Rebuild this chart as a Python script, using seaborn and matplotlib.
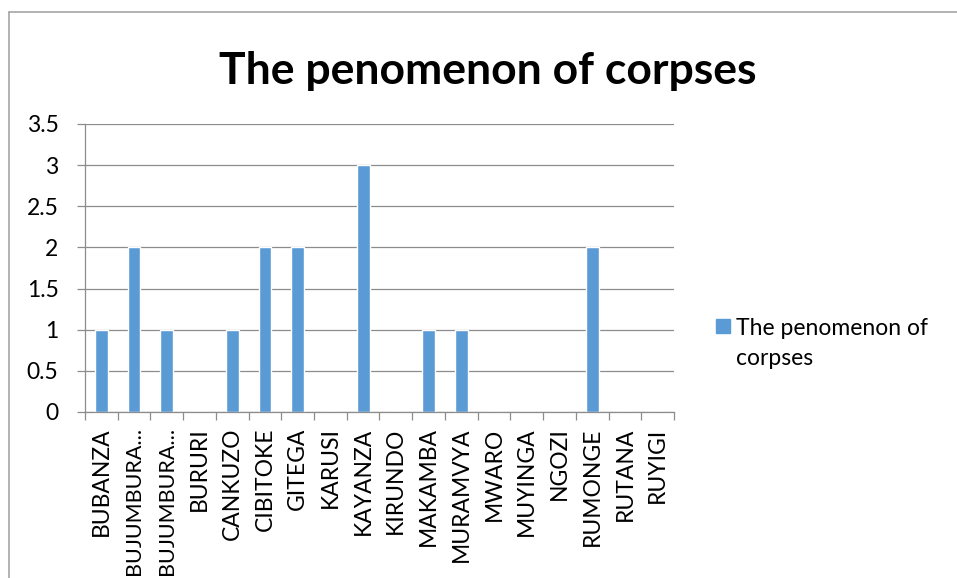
import numpy as np
import pandas as pd
import matplotlib.pyplot as plt
import seaborn as sns
from matplotlib.lines import Line2D
from matplotlib.patches import Rectangle
from matplotlib.ticker import FixedLocator


provinces = ['BUBANZA', 'BUJUMBURA...', 'BUJUMBURA...', 'BURURI', 'CANKUZO',
             'CIBITOKE', 'GITEGA', 'KARUSI', 'KAYANZA', 'KIRUNDO',
             'MAKAMBA', 'MURAMVYA', 'MWARO', 'MUYINGA', 'NGOZI',
             'RUMONGE', 'RUTANA', 'RUYIGI']
corpses = [1, 2, 1, 0, 1, 2, 2, 0, 3, 0, 1, 1, 0, 0, 0, 2, 0, 0]
y_ticks = [0, 0.5, 1, 1.5, 2, 2.5, 3, 3.5]
y_tick_labels = ['0', '0.5', '1', '1.5', '2', '2.5', '3', '3.5']

TITLE = 'The penomenon of corpses'
SERIES_LINES = ['The penomenon of', 'corpses']

BAR_COLOR = '#5B9BD5'
GRID_COLOR = '#8C8C8C'
LABEL_SIZE = 16.5

sns.set_theme(style='white')
plt.rcParams['font.family'] = ['Lato', 'DejaVu Sans']

df = pd.DataFrame({'pos': np.arange(len(provinces)), 'value': corpses})

fig = plt.figure(figsize=(9.57, 5.78), dpi=100)
ax = fig.add_axes([0.0888, 0.2872, 0.6155, 0.4983])

sns.barplot(data=df, x='pos', y='value', color=BAR_COLOR, width=0.39,
            saturation=1, ax=ax)

ax.set_xlim(-0.5, len(provinces) - 0.5)
ax.set_ylim(0, 3.5)
ax.set_yticks(y_ticks)
ax.set_yticklabels(y_tick_labels)
ax.set_xticks(df['pos'])
ax.set_xticklabels(provinces, rotation=90, ha='center', va='top')
# Excel puts the category ticks on the boundaries
ax.xaxis.set_minor_locator(FixedLocator(np.arange(len(provinces) + 1) - 0.5))
ax.set_xlabel('')
ax.set_ylabel('')

ax.yaxis.grid(True, color=GRID_COLOR, linewidth=0.9)
ax.set_axisbelow(True)
for side in ['top', 'right']:
    ax.spines[side].set_visible(False)
for side in ['left', 'bottom']:
    ax.spines[side].set_color(GRID_COLOR)
    ax.spines[side].set_linewidth(0.9)

ax.tick_params(axis='y', which='major', left=True, length=6, width=0.9,
               color=GRID_COLOR, pad=13, labelsize=LABEL_SIZE,
               labelcolor='black')
ax.tick_params(axis='x', which='major', bottom=False, length=0, pad=11,
               labelsize=LABEL_SIZE, labelcolor='black')
ax.tick_params(axis='x', which='minor', bottom=True, length=6, width=0.9,
               color=GRID_COLOR)

fig.text(488 / 957, 1 - 84 / 578, TITLE, ha='center', va='baseline',
         fontsize=32, fontweight='bold', color='black')

# legend drawn by hand so the key sits on the first text line
fig.add_artist(Rectangle((716 / 957, 1 - 333 / 578), 14 / 957, 14 / 578,
                         transform=fig.transFigure, color=BAR_COLOR))
for i, line in enumerate(SERIES_LINES):
    fig.text(736 / 957, 1 - (335 + 30 * i) / 578, line, ha='left',
             va='baseline', fontsize=LABEL_SIZE, color='black')

# chart area border (cropped on the right and bottom)
fig.add_artist(Line2D([9 / 957, 9 / 957], [0, 1 - 12 / 578],
                      transform=fig.transFigure, color='#A6A6A6', lw=1.2))
fig.add_artist(Line2D([9 / 957, 1], [1 - 12 / 578, 1 - 12 / 578],
                      transform=fig.transFigure, color='#A6A6A6', lw=1.2))

# the long truncated labels must stay inside the picture
fig.canvas.draw()
renderer = fig.canvas.get_renderer()
for lab in ax.get_xticklabels():
    ext = lab.get_window_extent(renderer)
    if ext.y0 < 3:
        lab.set_fontsize(LABEL_SIZE * (ext.y1 - 3) / (ext.y1 - ext.y0))

fig.savefig('out.png', dpi=100)
